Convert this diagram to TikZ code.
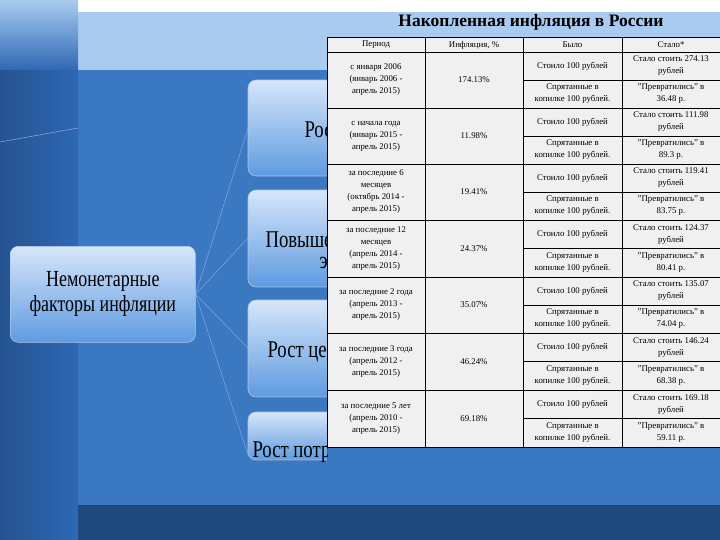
\documentclass[tikz,border=0pt]{standalone}
\usepackage{fontspec}
\setmainfont{Liberation Serif}
\begin{document}
\begin{tikzpicture}[x=1pt,y=-1pt,
  cell/.style={align=center,font=\fontsize{8.8}{12}\selectfont,inner sep=0pt},
  fbox/.style={draw=white!60!bgblue,line width=0.6pt,rounded corners=8pt,top color=boxtop,bottom color=boxbot},
  fan/.style={draw=white!75!blue,line width=0.5pt,opacity=0.6}]
\useasboundingbox (0,0) rectangle (720,540);
\definecolor{bgblue}{HTML}{3A78C2}
\definecolor{topblue}{HTML}{A9CBF0}
\definecolor{stripblue}{HTML}{2E68B4}
\definecolor{boxtop}{HTML}{D6E6FA}
\definecolor{boxbot}{HTML}{5E9BE0}
\fill[bgblue] (0,0) rectangle (720,540);
\fill[left color=stripblue!80!black,right color=stripblue] (0,0) rectangle (78,540);
\fill[white] (78,0) rectangle (720,12);
\fill[topblue] (78,12) rectangle (720,70);
\fill[top color=topblue,bottom color=stripblue] (0,0) rectangle (78,70);
\fill[stripblue!70!black] (78,505) rectangle (720,540);
\draw[white!70!blue,line width=0.4pt] (0,142) -- (78,128);
% left main box
\node[fbox,minimum width=185pt,minimum height=96pt,anchor=north west,
  font=\fontsize{23}{25}\selectfont,align=center] (main) at (10,246) {\scalebox{0.78}[1]{Немонетарные}\\\scalebox{0.78}[1]{факторы инфляции}};
\coordinate (b1) at (248,128);
\coordinate (b2) at (248,238);
\coordinate (b3) at (248,348);
\coordinate (b4) at (248,455);
\foreach \b in {b1,b2,b3,b4} \draw[fan] (main.east) -- (\b);
\begin{scope}
\clip (240,0) rectangle (327,540);
\fill[fbox] (248,80) rectangle (360,176);
\fill[fbox] (248,190) rectangle (360,287);
\fill[fbox] (248,300) rectangle (360,397);
\fill[fbox] (248,412) rectangle (360,460);
\node[font=\fontsize{24}{26}\selectfont,anchor=west] (t1) at (301,130) {\scalebox{0.78}[1]{Рост}};
\node[font=\fontsize{24}{26}\selectfont,anchor=west] (t2) at (262,240) {\scalebox{0.78}[1]{Повышение}};
\node[font=\fontsize{24}{26}\selectfont,anchor=west] (t2b) at (316,263) {\scalebox{0.78}[1]{эк}};
\node[font=\fontsize{24}{26}\selectfont,anchor=west] (t3) at (264,352) {\scalebox{0.78}[1]{Рост цен}};
\node[font=\fontsize{24}{26}\selectfont,anchor=west] (t4) at (249,452) {\scalebox{0.78}[1]{Рост потр}};
\end{scope}
% title
\node[font=\bfseries\fontsize{17.5}{19}\selectfont] (title) at (531,22) {Накопленная инфляция в России};
% table
\fill[gray!12] (327,37) rectangle (720,447);
\draw[line width=0.6pt] (327,37) rectangle (720,447);
\draw[line width=0.6pt] (327,52) -- (720,52);
\foreach \x in {425,523,622} \draw[line width=0.6pt] (\x,37) -- (\x,447);
\node[cell] (h1) at (376,45) {Период};
\node[cell] (h2) at (474,45) {Инфляция, \%};
\node[cell] (h3) at (572.5,45) {Было};
\node[cell] (h4) at (671,45) {Стало*};
\foreach \t/\b/\p/\i/\s/\r [count=\n] in {
 52/108/{с января 2006\\(январь 2006 -\\апрель 2015)}/174.13\%/274.13/36.48,
 108/164/{с начала года\\(январь 2015 -\\апрель 2015)}/11.98\%/111.98/89.3,
 164/220/{за последние 6\\месяцев\\(октябрь 2014 -\\апрель 2015)}/19.41\%/119.41/83.75,
 220/277/{за последние 12\\месяцев\\(апрель 2014 -\\апрель 2015)}/24.37\%/124.37/80.41,
 277/333/{за последние 2 года\\(апрель 2013 -\\апрель 2015)}/35.07\%/135.07/74.04,
 333/390/{за последние 3 года\\(апрель 2012 -\\апрель 2015)}/46.24\%/146.24/68.38,
 390/447/{за последние 5 лет\\(апрель 2010 -\\апрель 2015)}/69.18\%/169.18/59.11}{
  \pgfmathsetmacro\m{(\t+\b)/2}
  \draw[line width=0.6pt] (327,\b) -- (720,\b);
  \draw[line width=0.6pt] (523,\m) -- (720,\m);
  \node[cell] (p\n) at (376,\m) {\p};
  \node[cell] (i\n) at (474,\m) {\i};
  \node[cell] (s\n) at (572.5,{(\t+\m)/2}) {Стоило 100 рублей};
  \node[cell] (k\n) at (572.5,{(\m+\b)/2}) {Спрятанные в\\копилке 100 рублей.};
  \node[cell] (a\n) at (671,{(\t+\m)/2}) {Стало стоить \s\\рублей};
  \node[cell] (c\n) at (671,{(\m+\b)/2}) {"Превратились" в\\\r\ р.};
}
\end{tikzpicture}
\end{document}
